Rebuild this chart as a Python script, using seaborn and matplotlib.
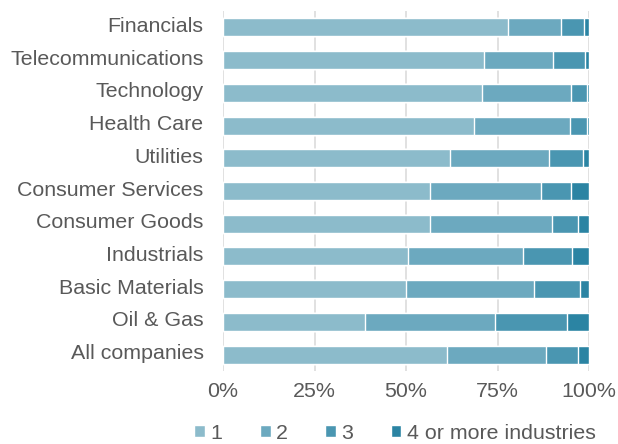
import matplotlib.pyplot as plt
import matplotlib.transforms as mtransforms
import seaborn as sns
import pandas as pd

# --- data (percent of companies by number of industries) ---
sectors = ['Financials', 'Telecommunications', 'Technology', 'Health Care',
           'Utilities', 'Consumer Services', 'Consumer Goods', 'Industrials',
           'Basic Materials', 'Oil & Gas', 'All companies']
one_industry = [77.8, 71.2, 70.7, 68.7, 61.9, 56.6, 56.6, 50.5, 49.9, 38.8, 61.2]
two_industries = [14.5, 19.1, 24.3, 26.0, 27.1, 30.2, 33.2, 31.6, 35.2, 35.5, 27.0]
three_industries = [6.2, 8.5, 4.4, 4.7, 9.3, 8.3, 7.2, 13.2, 12.4, 19.6, 8.9]
four_plus = [1.5, 1.2, 0.6, 0.6, 1.7, 4.9, 3.0, 4.7, 2.5, 6.1, 2.9]

series_names = ['1', '2', '3', '4 or more industries']
colors = ['#8cbbcb', '#6ca9bf', '#4a96b1', '#2b84a3']

df = pd.DataFrame({'sector': sectors, '1': one_industry, '2': two_industries,
                   '3': three_industries, '4 or more industries': four_plus})
cum = df[series_names].cumsum(axis=1)

sns.set_style('white')
plt.rcParams['font.family'] = ['Liberation Sans', 'DejaVu Sans']
text_col = '#595959'
fsize = 15.4

fig = plt.figure(figsize=(6.18, 4.44), dpi=100)
ax = fig.add_axes([223 / 618, 1 - 371 / 444, 366 / 618, 360 / 444])

# stacked bars: draw cumulative totals from the right-most segment backwards
for name, col in zip(series_names[::-1], colors[::-1]):
    sns.barplot(x=cum[name], y=df['sector'], color=col, width=0.55,
                orient='h', ax=ax, label=name, saturation=1)

ax.set_xlim(0, 100)
ax.set_xticks([0, 25, 50, 75, 100])
ax.set_xticklabels(['0%', '25%', '50%', '75%', '100%'])
ax.set_xlabel('')
ax.set_ylabel('')
ax.grid(axis='x', color='#d9d9d9', linewidth=1.1)
ax.set_axisbelow(True)
for s in ax.spines.values():
    s.set_visible(False)
ax.tick_params(axis='both', length=0, labelsize=fsize, colors=text_col)
ax.tick_params(axis='y', pad=14)
ax.tick_params(axis='x', pad=8)

# nudge category labels up a little, like the original
shift = mtransforms.ScaledTranslation(0, 3 / 100, fig.dpi_scale_trans)
for lbl in ax.get_yticklabels():
    lbl.set_transform(lbl.get_transform() + shift)

handles, labels = ax.get_legend_handles_labels()
order = [labels.index(n) for n in series_names]
leg = fig.legend([handles[i] for i in order], series_names, loc='center',
                 bbox_to_anchor=(395 / 618, 1 - 433 / 444), ncol=4, frameon=False,
                 fontsize=fsize, handlelength=0.5, handleheight=0.5,
                 handletextpad=0.25, columnspacing=1.75, borderpad=0)
for t in leg.get_texts():
    t.set_color(text_col)
if ax.get_legend():
    ax.get_legend().remove()

fig.savefig('out.png', dpi=100)
